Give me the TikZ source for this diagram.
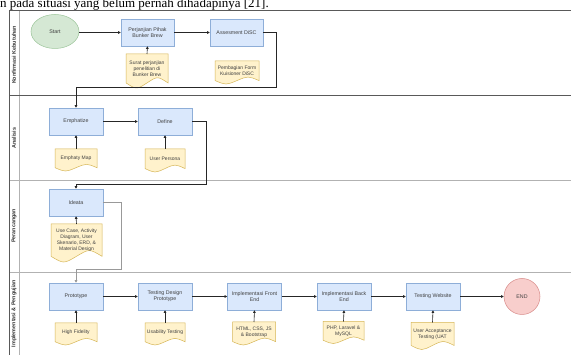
\documentclass[tikz,border=0pt]{standalone}
\usepackage{fontspec}
\setmainfont{Liberation Sans}
\newfontfamily\serifdoc{Liberation Serif}
\usetikzlibrary{arrows.meta,shapes.geometric}
\definecolor{bluefill}{HTML}{DAE8FC}
\definecolor{blueborder}{HTML}{8EAED8}
\definecolor{docfill}{HTML}{FFF2CC}
\definecolor{docborder}{HTML}{D6B656}
\definecolor{greenfill}{HTML}{D5E8D4}
\definecolor{greenborder}{HTML}{9CC59A}
\definecolor{redfill}{HTML}{F8CECC}
\definecolor{redborder}{HTML}{D88A88}
\tikzset{
  poolline/.style={draw=black!65, line width=0.8pt},
  laneline/.style={draw=black!30, line width=0.8pt},
  txt/.style={font=\fontsize{5.3}{6.2}\selectfont, text=black!75},
  dtxt/.style={font=\fontsize{5}{5.9}\selectfont, text=black!75},
  procbox/.style={txt, draw=blueborder, fill=bluefill, line width=0.5pt,
    minimum width=54pt, minimum height=27pt, align=center, inner sep=0.5pt},
  doctext/.style={dtxt, align=center, inner sep=0pt},
  docshape/.style={draw=docborder, fill=docfill, line width=0.5pt},
  flow/.style={draw=black!85, line width=0.6pt, -{Triangle[length=2.6pt,width=2.6pt]}},
  lanelabel/.style={rotate=90, font=\bfseries\fontsize{5.4}{6}\selectfont, text=black!80, inner sep=0pt}
}
% name, cx, cy, w, h, text
\newcommand\docnode[6]{%
  \path[docshape] ({#2-#4/2},{#3-#5/2}) -- ({#2+#4/2},{#3-#5/2}) -- ({#2+#4/2},{#3+0.35*#5})
    .. controls ({#2+#4/4},{#3+0.15*#5}) .. (#2,{#3+0.35*#5})
    .. controls ({#2-#4/4},{#3+0.55*#5}) .. ({#2-#4/2},{#3+0.35*#5}) -- cycle;
  \node[doctext, anchor=north, minimum width=#4pt, minimum height={0.85*#5pt}] (#1) at (#2,{#3-#5/2}) {#6};
}
\begin{document}
\begin{tikzpicture}[x=1pt,y=-1pt]
\useasboundingbox (0,0) rectangle (571,355);
\fill[white] (0,0) rectangle (571,355);
\clip (0,0) rectangle (571,355);

% top text of the page
\node[anchor=base west, font=\serifdoc\fontsize{13}{15}\selectfont, inner sep=0pt] (toptext) at (0,7.5)
  {n pada situasi yang belum pernah dihadapinya [21].};

% pool and lanes
\draw[laneline] (19.5,10.5) -- (19.5,360);
\draw[laneline] (9,180) -- (575,180);
\draw[laneline] (9,272) -- (575,272);
\draw[poolline] (9,10.5) -- (575,10.5);
\draw[poolline] (9,95) -- (575,95);
\draw[poolline] (9,10.5) -- (9,360);

\node[lanelabel] (lab1) at (14,55) {Konfirmasi Kebutuhan};
\node[lanelabel] (lab2) at (14,138) {Analisis};
\node[lanelabel] (lab3) at (14,226) {Perancangan};
\node[lanelabel] (lab4) at (14,313.5) {Implementasi \& Pengujian};

% lane 1
\node[ellipse, txt, draw=greenborder, fill=greenfill, line width=0.5pt, minimum width=48pt, minimum height=34pt, inner sep=0pt] (start) at (55,31.5) {Start};
\node[procbox, minimum width=53pt] (perj) at (147.5,32.5) {Perjanjian Pihak\\Bunker Brew};
\node[procbox, minimum width=53pt] (assess) at (236.5,32.5) {Assesment DiSC};
\docnode{dsurat}{147}{71}{42}{34}{Surat perjanjian\\penelitian di\\Bunker Brew}
\docnode{dform}{237}{72.5}{44}{23}{Pembagian Form\\Kuisioner DiSC}

% lane 2
\node[procbox] (emph) at (76,121.5) {Emphatize};
\node[procbox] (define) at (165,121.5) {Define};
\docnode{dmap}{76}{160}{42}{22}{Emphaty Map}
\docnode{dpersona}{165}{160.5}{40}{23}{User Persona}

% lane 3
\node[procbox] (ideata) at (76,202.5) {Ideata};
\docnode{duse}{76.5}{243}{51}{38}{Use Case, Activity\\Diagram, User\\Skenario, ERD, \&\\Material Design}

% lane 4
\node[procbox] (proto) at (76,296.5) {Prototype};
\node[procbox] (tdp) at (165,296.5) {Testing Design\\Prototype};
\node[procbox] (front) at (254.5,296.5) {Implementasi Front\\End};
\node[procbox] (back) at (344,296.5) {Implementasi Back\\End};
\node[procbox] (testweb) at (433,296.5) {Testing Website};
\node[circle, txt, draw=redborder, fill=redfill, line width=0.5pt, minimum size=36pt, inner sep=0pt] (endn) at (522,296.5) {END};
\docnode{dhifi}{76}{334}{42}{22}{High Fidelity}
\docnode{dusab}{165}{334}{40}{22}{Usability Testing}
\docnode{dhtml}{254}{333.5}{43}{23}{HTML, CSS, JS\\\& Bootstrap}
\docnode{dphp}{343.5}{332.5}{41}{22}{PHP, Laravel \&\\MySQL}
\docnode{duat}{432.5}{336}{43}{27}{User Acceptance\\Testing (UAT}

% connectors
\draw[flow] (start.east |- perj.west) -- (perj.west);
\draw[flow] (perj) -- (assess);
\draw[flow] (dsurat.north) -- (perj.south);
\draw[flow] (assess.east) -- ++(13,0) -- ++(0,54.5) -| (emph.north);
\draw[flow] (dmap.north) -- (emph.south);
\draw[flow] (emph) -- (define);
\draw[flow] (dpersona.north) -- (define.south);
\draw[flow] (define.east) -- ++(14,0) -- ++(0,62.5) -| (ideata.north);
\draw[flow] (duse.north) -- (ideata.south);
\draw[flow, draw=black!40] (ideata.east) -- ++(18,0) -- ++(0,66.5) -| (proto.north);
\draw[flow] (dhifi.north) -- (proto.south);
\draw[flow] (proto) -- (tdp);
\draw[flow] (dusab.north) -- (tdp.south);
\draw[flow] (tdp) -- (front);
\draw[flow] (dhtml.north) -- (front.south);
\draw[flow] (front) -- (back);
\draw[flow] (dphp.north) -- (back.south);
\draw[flow] (back) -- (testweb);
\draw[flow] (duat.north) -- (testweb.south);
\draw[flow] (testweb) -- (endn);
\end{tikzpicture}
\end{document}
